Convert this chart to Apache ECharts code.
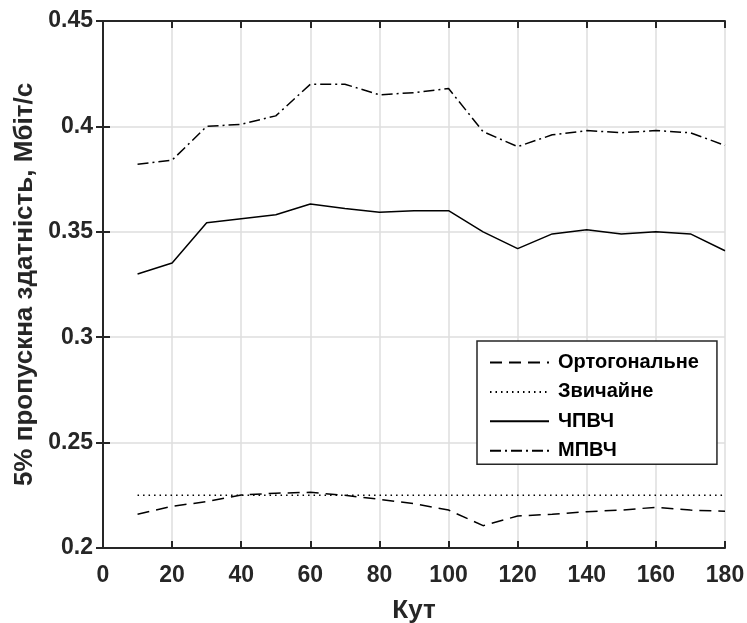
<!DOCTYPE html>
<html>
<head>
<meta charset="utf-8">
<script src="https://cdn.jsdelivr.net/npm/echarts@6/dist/echarts.min.js"></script>
<style>html,body{margin:0;padding:0;background:#fff}#c{width:747px;height:623px}</style>
</head>
<body>
<div id="c"></div>
<script>
const angles = [10,20,30,40,50,60,70,80,90,100,110,120,130,140,150,160,170,180];
const orthogonal = [0.216,0.2198,0.222,0.2251,0.226,0.2264,0.225,0.2231,0.221,0.218,0.2106,0.2152,0.216,0.2172,0.218,0.2193,0.218,0.2174];
const ordinary = [0.225,0.225,0.225,0.225,0.225,0.225,0.225,0.225,0.225,0.225,0.225,0.225,0.225,0.225,0.225,0.225,0.225,0.225];
const chpvch = [0.330,0.3352,0.3543,0.3562,0.3581,0.3632,0.361,0.3593,0.360,0.360,0.350,0.342,0.349,0.351,0.349,0.350,0.349,0.341];
const mpvch = [0.382,0.384,0.400,0.401,0.405,0.420,0.420,0.415,0.416,0.418,0.3975,0.3904,0.396,0.398,0.397,0.398,0.397,0.391];
const seriesNames = ['Ортогональне','Звичайне','ЧПВЧ','МПВЧ'];
const xTicks = ['0','20','40','60','80','100','120','140','160','180'];
const yTicks = ['0.2','0.25','0.3','0.35','0.4','0.45'];
const xName = 'Кут';
const yName = '5% пропускна здатність, Мбіт/с';

const FONT = '"Liberation Sans", Arial, Helvetica, sans-serif';
const TXT = '#262626';
const pair = a => angles.map((x,i)=>[x,a[i]]);
const axisCommon = {
  axisLine:{show:true,lineStyle:{color:TXT,width:2}},
  axisTick:{show:true,inside:true,length:7,lineStyle:{color:TXT,width:2}},
};
const chart = echarts.init(document.getElementById('c'));
const dashes = [[12,7],[1.5,4],'solid',[11,4,2,4]];
const datasets = [orthogonal, ordinary, chpvch, mpvch];
chart.setOption({
  animation:false,
  backgroundColor:'#fff',
  grid:{left:103,right:22,top:21,bottom:75,containLabel:false,outerBoundsMode:'none'},
  legend:{
    orient:'vertical', left:477, top:341,
    data:seriesNames,
    backgroundColor:'#fff', borderColor:TXT, borderWidth:1.5, borderRadius:0,
    padding:[11.5,18,3.5,12],
    itemWidth:59, itemHeight:14, itemGap:9.4,
    itemStyle:{color:'transparent',borderWidth:0,opacity:0},
    textStyle:{fontFamily:FONT,fontWeight:'bold',fontSize:20,color:'#000',lineHeight:20,padding:[0,0,0,4]}
  },
  xAxis:[
    Object.assign({type:'value',min:0,max:180,interval:20,position:'bottom',
      name:xName,nameLocation:'middle',nameGap:50,
      nameTextStyle:{fontFamily:FONT,fontWeight:'bold',fontSize:26,color:TXT},
      axisLabel:{fontFamily:FONT,fontWeight:'bold',fontSize:23,color:TXT,margin:16,
        formatter:(v)=>xTicks[Math.round(v/20)]},
      splitLine:{show:true,lineStyle:{color:'#dedede',width:1.5}}},axisCommon),
    Object.assign({type:'value',min:0,max:180,interval:20,position:'top',
      axisLabel:{show:false},splitLine:{show:false}},axisCommon)
  ],
  yAxis:[
    Object.assign({type:'value',min:0.2,max:0.45,interval:0.05,position:'left',
      name:yName,nameLocation:'middle',nameGap:65,
      nameTextStyle:{fontFamily:FONT,fontWeight:'bold',fontSize:26,color:TXT},
      axisLabel:{fontFamily:FONT,fontWeight:'bold',fontSize:23,color:TXT,margin:10,
        formatter:(v)=>yTicks[Math.round((v-0.2)/0.05)]},
      splitLine:{show:true,lineStyle:{color:'#dedede',width:1.5}}},axisCommon),
    Object.assign({type:'value',min:0.2,max:0.45,interval:0.05,position:'right',
      axisLabel:{show:false},splitLine:{show:false}},axisCommon)
  ],
  series: seriesNames.map((n,i)=>({
    name:n, type:'line', data:pair(datasets[i]), symbol:'none', showSymbol:false,
    lineStyle:{color:'#000',width:1.5,type:dashes[i]},
    itemStyle:{color:'#000'}, z:3
  }))
});
</script>
</body>
</html>
